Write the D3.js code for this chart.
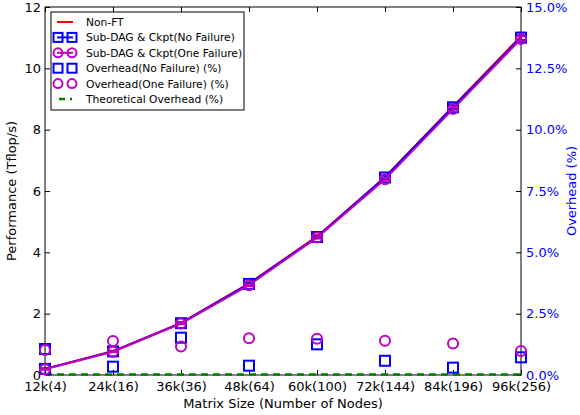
<!DOCTYPE html>
<html>
<head>
<meta charset="utf-8">
<script src="https://cdn.jsdelivr.net/npm/d3@7"></script>
<style>
	body { margin: 0; background: #fff; }
	text { font-family: 'DejaVu Sans', sans-serif; }
</style>
</head>
<body>
<div id="chart"></div>
<script>
// categories and values
var categories = ['12k(4)', '24k(16)', '36k(36)', '48k(64)', '60k(100)', '72k(144)', '84k(196)', '96k(256)'];
var nonFT = [0.2, 0.78, 1.7, 2.99, 4.52, 6.46, 8.76, 11.05];
var noFailure = [0.2, 0.77, 1.69, 2.97, 4.5, 6.44, 8.73, 11.0];
var oneFailure = [0.19, 0.76, 1.68, 2.93, 4.48, 6.38, 8.67, 10.96];
var nonFTErr = [0.02, 0.02, 0.03, 0.04, 0.05, 0.06, 0.08, 0.12];
var noFailureErr = [0.02, 0.02, 0.03, 0.04, 0.04, 0.05, 0.07, 0.08];
var oneFailureErr = [0.02, 0.02, 0.03, 0.04, 0.04, 0.05, 0.07, 0.08];
var overheadNo = [1.06, 0.34, 1.52, 0.38, 1.25, 0.58, 0.3, 0.72];
var overheadOne = [1.02, 1.39, 1.16, 1.5, 1.48, 1.4, 1.28, 0.98];
var theoretical = [0.02, 0.02, 0.02, 0.02, 0.02, 0.02, 0.02, 0.02];
var leftTicks = [0, 2, 4, 6, 8, 10, 12];
var rightTicks = [0, 2.5, 5, 7.5, 10, 12.5, 15];

var margin = { top: 7, right: 59, bottom: 40, left: 45 },
	width = 580 - margin.left - margin.right,
	height = 415 - margin.top - margin.bottom;

var svg = d3
	.select('#chart')
	.append('svg')
	.attr('width', 580)
	.attr('height', 415)
	.append('g')
	.attr('transform', 'translate(' + margin.left + ',' + margin.top + ')');

//Scales
var x = d3.scalePoint().domain(categories).range([0, width]);
var y = d3.scaleLinear().domain([0, 12]).range([height, 0]);
var y2 = d3.scaleLinear().domain([0, 15]).range([height, 0]);

//Axes, ticks pointing inward
var xAxis = svg.append('g').attr('transform', 'translate(0,' + height + ')')
	.call(d3.axisBottom(x).tickSizeInner(-5).tickSizeOuter(0).tickPadding(7));
var xTop = svg.append('g')
	.call(d3.axisTop(x).tickSizeInner(-5).tickSizeOuter(0).tickFormat(''));
var yAxis = svg.append('g')
	.call(d3.axisLeft(y).tickValues(leftTicks).tickSizeInner(-5).tickSizeOuter(0).tickPadding(4));
var yAxis2 = svg.append('g').attr('transform', 'translate(' + width + ',0)')
	.call(d3.axisRight(y2).tickValues(rightTicks).tickSizeInner(-5).tickSizeOuter(0).tickPadding(5)
		.tickFormat(function(d) { return d.toFixed(1) + '%'; }));

[xAxis, xTop, yAxis, yAxis2].forEach(function(a) {
	a.select('.domain').remove();
	a.selectAll('text').style('font-size', '13px').style('font-family', 'DejaVu Sans');
	a.selectAll('line').attr('stroke', '#000');
});
yAxis2.selectAll('text').attr('fill', '#0000ff');

//frame
svg.append('rect').attr('width', width).attr('height', height)
	.attr('fill', 'none').attr('stroke', '#000').attr('stroke-width', 1);

//Axis labels
svg.append('text').attr('text-anchor', 'middle').attr('x', width / 2).attr('y', height + 33)
	.style('font-size', '13px').text('Matrix Size (Number of Nodes)');
svg.append('text').attr('text-anchor', 'middle')
	.attr('transform', 'translate(-29,' + height / 2 + ') rotate(-90)')
	.style('font-size', '13px').text('Performance (Tflop/s)');
svg.append('text').attr('text-anchor', 'middle').attr('fill', '#0000ff')
	.attr('transform', 'translate(' + (width + 55) + ',' + height / 2 + ') rotate(-90)')
	.style('font-size', '13px').text('Overhead (%)');

var plot = svg.append('g');

//Theoretical overhead, green dashes
plot.append('path').datum(theoretical).attr('fill', 'none').attr('stroke', '#008000')
	.attr('stroke-width', 2.5).attr('stroke-dasharray', '7,5')
	.attr('d', d3.line().x(function(d, i) { return x(categories[i]); }).y(function(d) { return y2(d); }));

function perfLine(data, err, color, marker) {
	var g = plot.append('g');
	g.append('path').datum(data).attr('fill', 'none').attr('stroke', color).attr('stroke-width', 2)
		.attr('d', d3.line().x(function(d, i) { return x(categories[i]); }).y(function(d) { return y(d); }));
	//error bars
	data.forEach(function(d, i) {
		var cx = x(categories[i]);
		g.append('line').attr('x1', cx).attr('x2', cx).attr('y1', y(d - err[i])).attr('y2', y(d + err[i]))
			.attr('stroke', color).attr('stroke-width', 1.5);
		[d - err[i], d + err[i]].forEach(function(v) {
			g.append('line').attr('x1', cx - 4).attr('x2', cx + 4).attr('y1', y(v)).attr('y2', y(v))
				.attr('stroke', color).attr('stroke-width', 1.5);
		});
	});
	if (marker) drawMarkers(g, data, y, color, marker);
}

function drawMarkers(g, data, scale, color, marker) {
	g.selectAll('.m').data(data).enter().each(function(d, i) {
		var cx = x(categories[i]), cy = scale(d);
		if (marker === 'square') {
			d3.select(this).append('rect').attr('x', cx - 5).attr('y', cy - 5).attr('width', 10).attr('height', 10)
				.attr('fill', 'none').attr('stroke', color).attr('stroke-width', 2);
		} else {
			d3.select(this).append('circle').attr('cx', cx).attr('cy', cy).attr('r', 5)
				.attr('fill', 'none').attr('stroke', color).attr('stroke-width', 2);
		}
	});
}

perfLine(nonFT, nonFTErr, '#ff0000', null);
perfLine(noFailure, noFailureErr, '#0000ff', 'square');
perfLine(oneFailure, oneFailureErr, '#bf00bf', 'circle');

drawMarkers(plot.append('g'), overheadNo, y2, '#0000ff', 'square');
drawMarkers(plot.append('g'), overheadOne, y2, '#bf00bf', 'circle');

//Legend
var legendItems = [
	{ label: 'Non-FT', color: '#ff0000', type: 'line' },
	{ label: 'Sub-DAG & Ckpt(No Failure)', color: '#0000ff', type: 'lineSquare' },
	{ label: 'Sub-DAG & Ckpt(One Failure)', color: '#bf00bf', type: 'lineCircle' },
	{ label: 'Overhead(No Failure) (%)', color: '#0000ff', type: 'square' },
	{ label: 'Overhead(One Failure) (%)', color: '#bf00bf', type: 'circle' },
	{ label: 'Theoretical Overhead (%)', color: '#008000', type: 'dash' }
];
var legend = svg.append('g').attr('transform', 'translate(6,5)');
legend.append('rect').attr('width', 193).attr('height', 98)
	.attr('fill', '#fff').attr('stroke', '#000').attr('stroke-width', 1);
legendItems.forEach(function(item, i) {
	var ly = 10 + i * 15.4;
	var row = legend.append('g');
	if (item.type === 'line' || item.type === 'lineSquare' || item.type === 'lineCircle') {
		row.append('line').attr('x1', 6).attr('x2', 22).attr('y1', ly).attr('y2', ly)
			.attr('stroke', item.color).attr('stroke-width', 2);
	}
	if (item.type === 'dash') {
		row.append('line').attr('x1', 8).attr('x2', 14).attr('y1', ly).attr('y2', ly)
			.attr('stroke', item.color).attr('stroke-width', 2.5);
		row.append('line').attr('x1', 19).attr('x2', 21).attr('y1', ly).attr('y2', ly)
			.attr('stroke', item.color).attr('stroke-width', 2.5);
	}
	[7, 21].forEach(function(mx) {
		if (item.type === 'lineSquare' || item.type === 'square') {
			row.append('rect').attr('x', mx - 4.5).attr('y', ly - 4.5).attr('width', 9).attr('height', 9)
				.attr('fill', 'none').attr('stroke', item.color).attr('stroke-width', 2);
		}
		if (item.type === 'lineCircle' || item.type === 'circle') {
			row.append('circle').attr('cx', mx).attr('cy', ly).attr('r', 4.5)
				.attr('fill', 'none').attr('stroke', item.color).attr('stroke-width', 2);
		}
	});
	row.append('text').attr('x', 35).attr('y', ly + 4).style('font-size', '10.7px').text(item.label);
});
</script>
</body>
</html>
